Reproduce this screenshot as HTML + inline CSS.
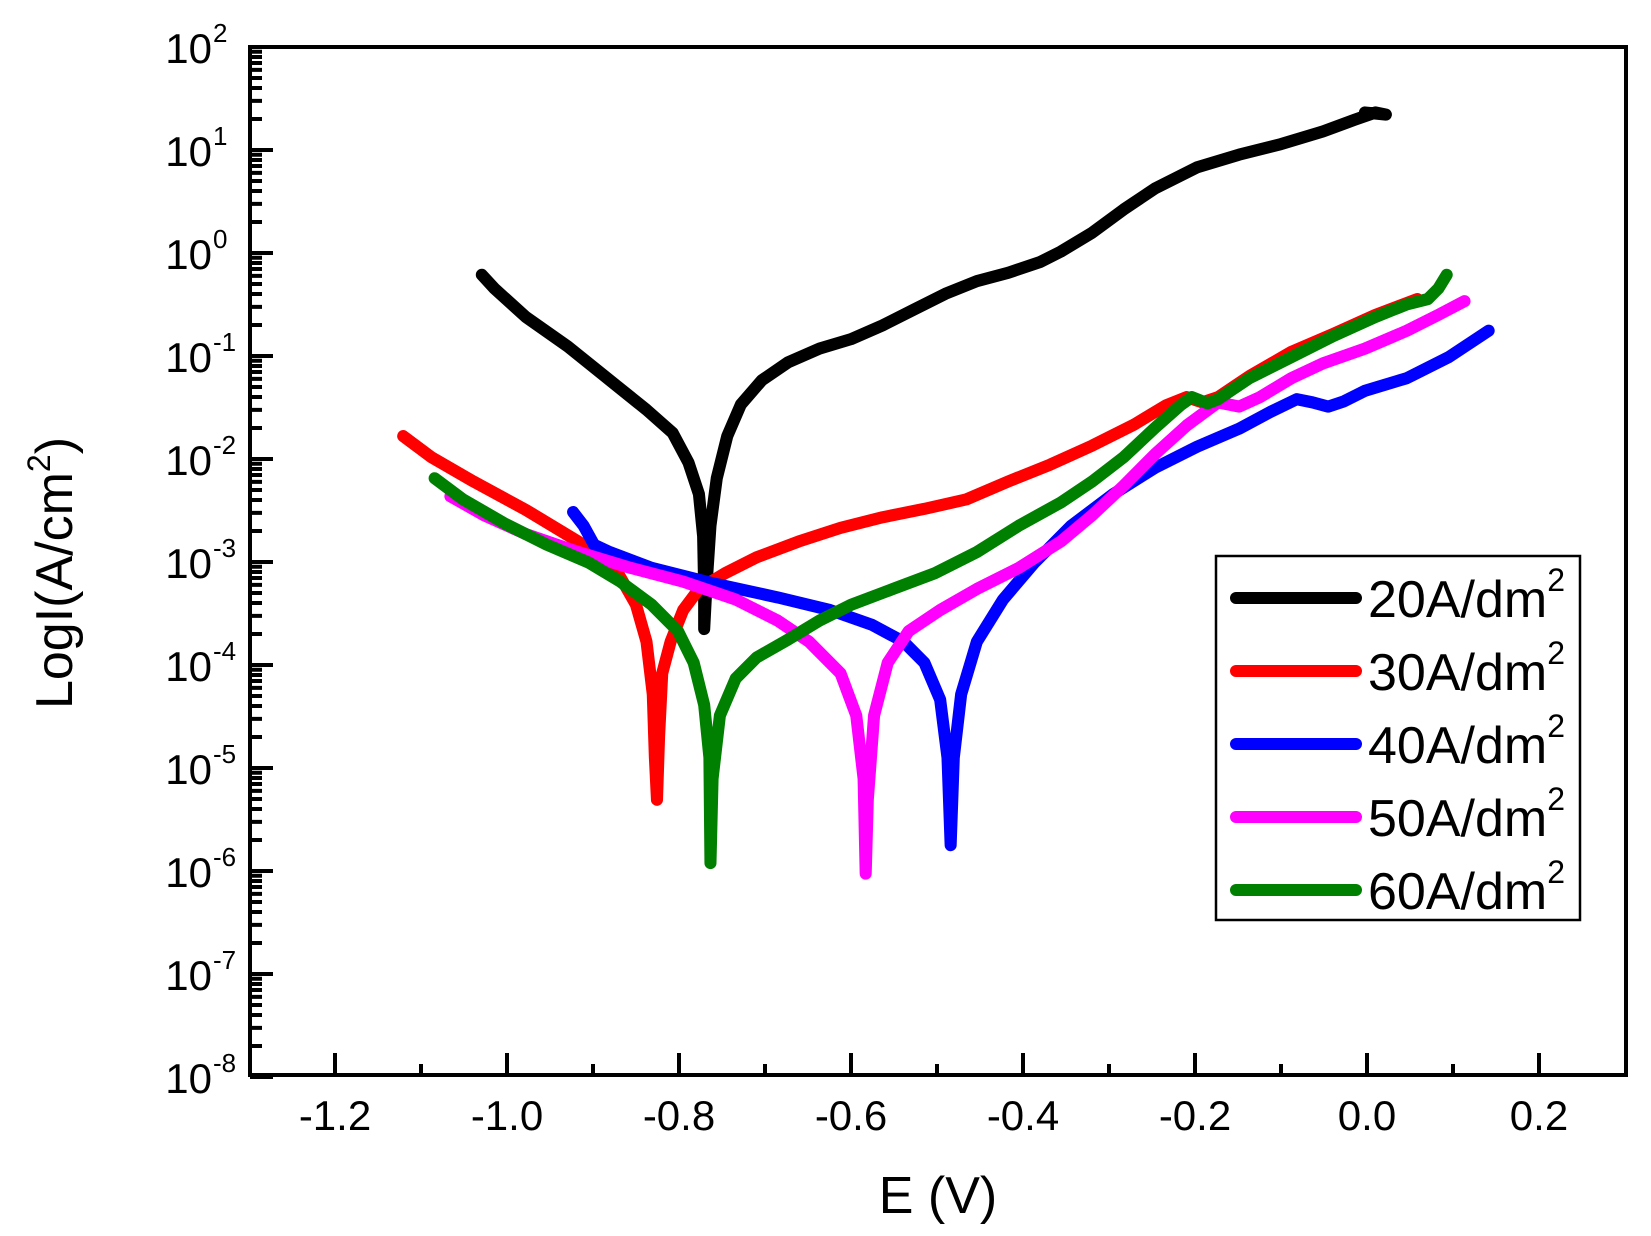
<!DOCTYPE html>
<html><head><meta charset="utf-8"><style>
html,body{margin:0;padding:0;background:#fff}
svg{display:block}
text{font-family:"Liberation Sans",Arial,sans-serif;fill:#000}
</style></head><body>
<svg width="1651" height="1236" viewBox="0 0 1651 1236" xmlns="http://www.w3.org/2000/svg">
<rect width="1651" height="1236" fill="#fff"/>
<g id="ticks" stroke="#000" stroke-width="4">
<path d="M335 1075v-22M507 1075v-22M679 1075v-22M851 1075v-22M1023 1075v-22M1195 1075v-22M1367 1075v-22M1539 1075v-22"/>
<path d="M421 1075v-11M593 1075v-11M765 1075v-11M937 1075v-11M1109 1075v-11M1281 1075v-11M1453 1075v-11"/>
</g>
<g id="yt" stroke="#000" stroke-width="4"></g>
<rect x="250" y="47" width="1376" height="1028" fill="none" stroke="#000" stroke-width="4"/>
<g fill="none" stroke-linecap="round" stroke-linejoin="round" stroke-width="11.5" transform="matrix(1.0488 0 0 1.0542 1.48 -1.38)">
<polyline stroke="#000" points="458,262 470,275 500,302 540,330 580,362 615,390 640,412 655,440 665,470 669,510 670,560 670,598 672,560 676,500 682,455 692,415 705,385 725,362 750,345 780,332 810,323 840,310 870,295 900,280 930,268 960,260 990,250 1010,240 1040,222 1070,200 1100,180 1140,160 1180,148 1220,138 1260,126 1290,115 1310,108 1320,110 1300,108"/>
<polyline stroke="#f00" points="383,415 410,435 450,458 500,485 550,515 585,540 605,575 615,610 621,660 623,720 625,760 627,700 630,640 638,610 650,580 665,560 690,545 720,530 760,515 800,502 840,492 880,484 920,475 960,458 1000,442 1040,424 1080,404 1110,386 1130,378 1145,383 1160,378 1190,358 1230,335 1270,318 1310,300 1350,285"/>
<polyline stroke="#00f" points="545,487 555,500 565,518 580,525 620,540 680,555 740,568 790,580 830,594 860,610 880,630 895,665 902,720 905,803 908,720 915,660 930,610 955,570 985,535 1020,500 1060,470 1100,445 1140,425 1180,408 1210,392 1235,380 1250,383 1265,387 1280,382 1300,372 1340,360 1380,340 1418,315"/>
<polyline stroke="#f0f" points="428,472 460,490 500,508 550,525 600,540 650,553 700,570 740,590 770,610 800,640 815,680 822,740 824,830 826,760 832,680 845,630 865,600 895,580 930,560 970,540 1010,515 1040,490 1070,462 1100,432 1130,405 1160,383 1180,387 1200,378 1230,360 1260,346 1300,332 1340,315 1370,300 1395,287"/>
<polyline stroke="#008000" points="413,455 440,475 480,498 520,518 560,535 590,553 620,575 645,600 660,630 670,670 675,720 676,820 678,740 685,680 700,645 720,625 750,608 780,590 810,575 850,560 890,545 930,525 970,500 1010,478 1040,458 1070,435 1100,407 1125,385 1135,378 1150,384 1160,380 1190,360 1230,340 1270,320 1310,302 1340,290 1360,285 1370,275 1378,262"/>
</g>
<g font-size="42" text-anchor="middle">
<text x="335" y="1130">-1.2</text><text x="507" y="1130">-1.0</text><text x="679" y="1130">-0.8</text><text x="851" y="1130">-0.6</text><text x="1023" y="1130">-0.4</text><text x="1195" y="1130">-0.2</text><text x="1367" y="1130">0.0</text><text x="1539" y="1130">0.2</text>
</g>
<g id="yl"></g>
<text x="938" y="1213" font-size="52" text-anchor="middle">E (V)</text>
<text transform="translate(72,573) rotate(-90)" font-size="52" text-anchor="middle">LogI(A/cm<tspan font-size="32" dy="-22">2</tspan><tspan dy="22">)</tspan></text>
<rect x="1216" y="556" width="364" height="364" fill="#fff" stroke="#000" stroke-width="2.5"/>
<g stroke-width="12" stroke-linecap="round">
<line x1="1236" y1="598" x2="1356" y2="598" stroke="#000"/>
<line x1="1236" y1="671" x2="1356" y2="671" stroke="#f00"/>
<line x1="1236" y1="744" x2="1356" y2="744" stroke="#00f"/>
<line x1="1236" y1="817" x2="1356" y2="817" stroke="#f0f"/>
<line x1="1236" y1="890" x2="1356" y2="890" stroke="#008000"/>
</g>
<g font-size="52">
<text x="1368" y="617">20A/dm<tspan font-size="32" dy="-26">2</tspan></text>
<text x="1368" y="690">30A/dm<tspan font-size="32" dy="-26">2</tspan></text>
<text x="1368" y="763">40A/dm<tspan font-size="32" dy="-26">2</tspan></text>
<text x="1368" y="836">50A/dm<tspan font-size="32" dy="-26">2</tspan></text>
<text x="1368" y="909">60A/dm<tspan font-size="32" dy="-26">2</tspan></text>
</g>
<script>
(function(){
var ns="http://www.w3.org/2000/svg",yt=document.getElementById("yt"),yl=document.getElementById("yl"),d="";
for(var k=0;k<=10;k++){
 var y=47+103*k; d+="M250 "+y+"h23";
 if(k<10){for(var m=2;m<=9;m++){var yy=y+103-103*Math.log10(m); d+="M250 "+yy.toFixed(1)+"h12";}}
 var e=2-k,t=document.createElementNS(ns,"text");
 t.setAttribute("x","212");t.setAttribute("y",(y+16).toString());t.setAttribute("font-size","42");t.setAttribute("text-anchor","end");
 t.textContent="10";yl.appendChild(t);
 var s=document.createElementNS(ns,"text");
 s.setAttribute("x","213");s.setAttribute("y",(y-5).toString());s.setAttribute("font-size","26");
 s.textContent=(e<0?"-":"")+Math.abs(e);yl.appendChild(s);
}
var p=document.createElementNS(ns,"path");p.setAttribute("d",d);yt.appendChild(p);
})();
</script>
</svg>
</body></html>
